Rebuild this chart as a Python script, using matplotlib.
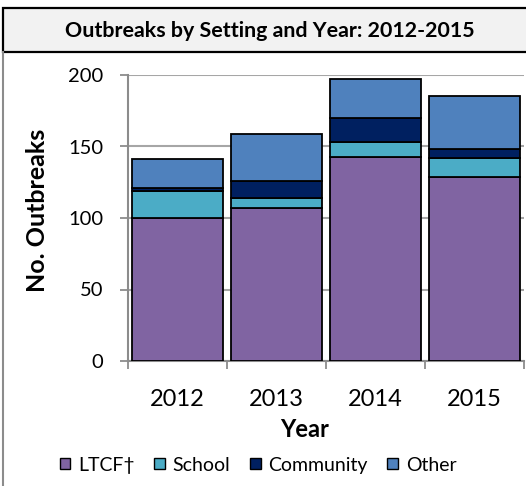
import matplotlib
matplotlib.use('Agg')
import matplotlib.pyplot as plt
from matplotlib.patches import Rectangle, Patch
from matplotlib.lines import Line2D
import numpy as np

# values
years = ['2012', '2013', '2014', '2015']
ltcf = [100, 107, 143, 129]
school = [19, 7, 10, 13]
community = [2, 12, 17, 6]
other = [20, 33, 27, 37]

series = [('LTCF\u2020', ltcf, '#8064A2'),
          ('School', school, '#4BACC6'),
          ('Community', community, '#002060'),
          ('Other', other, '#4F81BD')]

plt.rcParams['font.family'] = ['Lato', 'DejaVu Sans']

W, H = 526, 486
fig = plt.figure(figsize=(W / 100, H / 100), dpi=100)

# chart area border (gray) and title band
fig.add_artist(Line2D([2.5 / W, 2.5 / W], [0, 1 - 52 / H], color='#8C8C8C', lw=1.5,
                      transform=fig.transFigure))
fig.add_artist(Rectangle((3 / W, 1 - 52 / H), 1.0, 44 / H, transform=fig.transFigure,
                         facecolor='#F2F2F2', edgecolor='black', lw=1.6))
fig.text(270 / W, 1 - 31 / H, 'Outbreaks by Setting and Year: 2012-2015',
         ha='center', va='center', fontsize=15.4, fontweight='bold')

ax = fig.add_axes([128 / W, 1 - 361 / H, 396 / W, 286 / H])
x = np.arange(len(years))
bottom = np.zeros(len(years))
for name, vals, col in series:
    ax.bar(x, vals, bottom=bottom, width=0.91, color=col, edgecolor='black',
           linewidth=1.3, label=name, zorder=3)
    bottom += np.array(vals)

ax.set_xlim(-0.5, 3.5)
ax.set_ylim(0, 200)
ax.set_yticks([0, 50, 100, 150, 200])
ax.yaxis.grid(True, color='#A6A6A6', lw=1.5, zorder=0)
ax.set_xticks(x)
ax.set_xticklabels(years)
ax.set_xticks([-0.5, 0.5, 1.5, 2.5, 3.5], minor=True)
ax.tick_params(axis='x', which='major', length=0, pad=20, labelsize=17)
ax.tick_params(axis='x', which='minor', length=6, width=1.3, color='#8C8C8C', direction='out')
ax.tick_params(axis='y', length=6, width=1.3, color='#8C8C8C', direction='out', labelsize=14.5, pad=12)
for side in ['top', 'right']:
    ax.spines[side].set_visible(False)
for side in ['left', 'bottom']:
    ax.spines[side].set_color('#8C8C8C')
    ax.spines[side].set_linewidth(1.5)

fig.text(38 / W, 1 - 210 / H, 'No. Outbreaks', rotation=90, ha='center', va='center',
         fontsize=18, fontweight='bold')
fig.text(305 / W, 1 - 429 / H, 'Year', ha='center', va='center',
         fontsize=17, fontweight='bold')

handles = [Patch(facecolor=col, edgecolor='black', lw=1.0) for _, _, col in series]
labels = [name for name, _, _ in series]
fig.legend(handles, labels, loc='center', bbox_to_anchor=(258 / W, 1 - 465 / H),
           ncol=4, frameon=False, fontsize=14, handlelength=0.55, handleheight=0.55,
           handletextpad=0.4, columnspacing=1.0)

fig.savefig('out.png', dpi=100)
